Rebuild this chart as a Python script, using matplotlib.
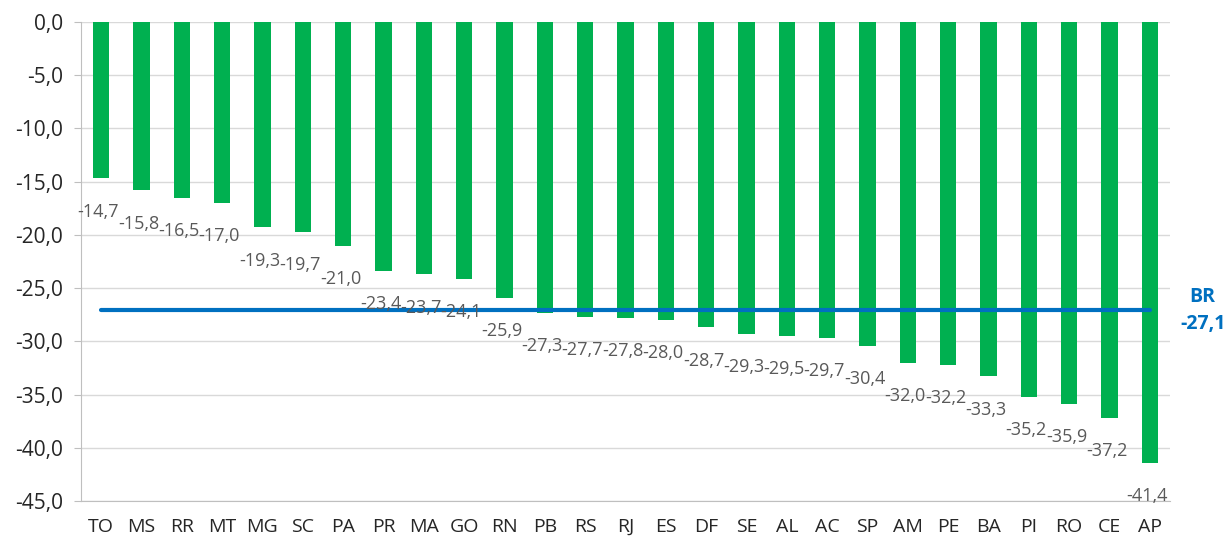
import matplotlib.pyplot as plt

# dados por UF
ufs = ['TO', 'MS', 'RR', 'MT', 'MG', 'SC', 'PA', 'PR', 'MA', 'GO', 'RN', 'PB', 'RS', 'RJ',
       'ES', 'DF', 'SE', 'AL', 'AC', 'SP', 'AM', 'PE', 'BA', 'PI', 'RO', 'CE', 'AP']
valores = [-14.7, -15.8, -16.5, -17.0, -19.3, -19.7, -21.0, -23.4, -23.7, -24.1, -25.9, -27.3,
           -27.7, -27.8, -28.0, -28.7, -29.3, -29.5, -29.7, -30.4, -32.0, -32.2, -33.3, -35.2,
           -35.9, -37.2, -41.4]
valor_br = -27.1
yticks = [0, -5, -10, -15, -20, -25, -30, -35, -40, -45]

COR_BARRA = '#00B050'
COR_LINHA = '#0070C0'
COR_ROTULO = '#595959'
COR_GRADE = '#D9D9D9'
COR_EIXO = '#BFBFBF'

plt.rcParams['font.family'] = ['Open Sans', 'DejaVu Sans']

fig = plt.figure(figsize=(12.24, 5.39), dpi=100)
ax = fig.add_axes([81 / 1224, 38 / 539, 1089 / 1224, 479 / 539])

x = list(range(len(ufs)))
ax.bar(x, valores, width=0.4, color=COR_BARRA, zorder=2)

# linha do Brasil
ax.plot([x[0], x[-1]], [valor_br, valor_br], color=COR_LINHA, linewidth=3,
        solid_capstyle='round', zorder=3)
ax.text(1.03, valor_br, 'BR\n-27,1', transform=ax.get_yaxis_transform(),
        color=COR_LINHA, fontsize=14, fontweight='bold', ha='center', va='center',
        linespacing=1.45)

# rótulos de dados
for xi, v in zip(x, valores):
    ax.annotate(f'{v:.1f}'.replace('.', ','), (xi, v), xytext=(-2, -24),
                textcoords='offset points', ha='center', va='center',
                fontsize=13, color=COR_ROTULO, zorder=4)

ax.set_xlim(-0.5, len(ufs) - 0.5)
ax.set_ylim(-45, 0)
ax.set_yticks(yticks)
ax.set_yticklabels([f'{t:.1f}'.replace('.', ',') for t in yticks], fontsize=15, color='#262626')
ax.set_xticks(x)
ax.set_xticklabels(ufs, fontsize=14, color='#262626')
ax.tick_params(axis='x', length=0, pad=12)
ax.tick_params(axis='y', length=5, color=COR_EIXO, pad=8)

ax.grid(axis='y', color=COR_GRADE, linewidth=1, zorder=0)
ax.set_axisbelow(True)
for s in ['top', 'right']:
    ax.spines[s].set_visible(False)
ax.spines['left'].set_color(COR_EIXO)
ax.spines['bottom'].set_color(COR_EIXO)

fig.savefig('out.png', dpi=100)
